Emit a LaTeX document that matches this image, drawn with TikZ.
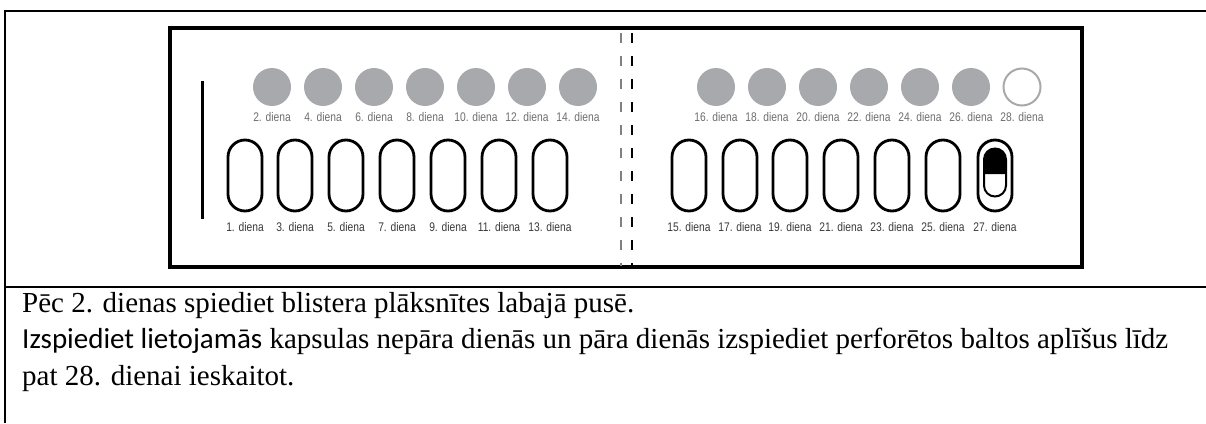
\documentclass[tikz,border=0pt]{standalone}
\usepackage{fontspec}
\setmainfont{Liberation Serif}
\newfontfamily\carlito{Carlito}
\newfontfamily\narrowf[FakeStretch=0.82]{Liberation Sans}
\definecolor{pillgray}{HTML}{A7A9AC}
\definecolor{labgray}{HTML}{6E6E6E}
\definecolor{labdark}{HTML}{3A3A3A}
\begin{document}
\begin{tikzpicture}[x=1pt,y=1pt,
  frame/.style={line width=2.2pt,black},
  dot/.style={circle,fill=pillgray,minimum size=38pt,inner sep=0pt},
  emptydot/.style={circle,draw=pillgray,line width=2pt,fill=white,minimum size=37pt,inner sep=0pt},
  capsule/.style={rectangle,draw=black,line width=2.8pt,rounded corners=17pt,minimum width=34pt,minimum height=71pt,inner sep=0pt},
  inner/.style={rectangle,draw=black,line width=2pt,rounded corners=11pt,minimum width=22pt,minimum height=48pt,inner sep=0pt},
  lab/.style={font=\narrowf\fontsize{12.5}{15}\selectfont,text=labgray,inner sep=0pt},
  labd/.style={lab,text=labdark},
  perf/.style={line width=1.2pt,dash pattern=on 10pt off 13pt,dash phase=-4pt},
  body/.style={anchor=base west,inner sep=0pt,font=\fontsize{29}{34}\selectfont}]
\useasboundingbox (0,0) rectangle (1206,-423);
\fill[white] (0,0) rectangle (1206,-423);
% table frame
\coordinate (tl) at (5,-11);
\coordinate (tr) at (1206,-11);
\coordinate (bl) at (5,-423);
\coordinate (ml) at (5,-287);
\coordinate (mr) at (1206,-287);
\draw[frame] (tr) -- (tl) -- (bl);
\draw[frame] (ml) -- (mr);
% blister card
\draw[line width=3.2pt] (170,-28) rectangle (1082,-267);
\coordinate (b1) at (202,-81);
\coordinate (b2) at (202,-219);
\draw[line width=3pt] (b1) -- (b2);
% perforation
\coordinate (p1t) at (621,-29);
\coordinate (p1b) at (621,-266);
\coordinate (p2t) at (632,-29);
\coordinate (p2b) at (632,-266);
\draw[perf,gray] (p1t) -- (p1b);
\draw[perf,black] (p2t) -- (p2b);
% even days: dots
\foreach \x/\d in {272/2,323/4,374/6,425/8,476/10,527/12,578/14,716/16,767/18,818/20,869/22,920/24,971/26}{
  \node[dot] (d\d) at (\x,-87) {};
  \node[lab] (ld\d) at (\x,-117) {\d. diena};
}
\node[emptydot] (d28) at (1022,-87) {};
\node[lab] (ld28) at (1022,-117) {28. diena};
% odd days: capsules
\foreach \x/\d in {245/1,295/3,346/5,397/7,448/9,499/11,550/13,689/15,740/17,790/19,841/21,892/23,943/25,995/27}{
  \node[capsule] (c\d) at (\x,-175.5) {};
  \node[labd] (lc\d) at (\x,-227) {\d. diena};
}
% capsule 27 content
\fill[black] (984,-174) -- (984,-159) arc[start angle=180,end angle=0,radius=11] -- (1006,-174) -- cycle;
\node[inner] (pill27) at (995,-172.5) {};
% text
\node[body] (t1) at (22,-312) {Pēc 2. dienas spiediet blistera plāksnītes labajā pusē.};
\node[body] (t2) at (22,-348.5) {{\carlito Izspiediet lietojamās} kapsulas nepāra dienās un pāra dienās izspiediet perforētos baltos aplīšus līdz};
\node[body] (t3) at (22,-385) {pat 28. dienai ieskaitot.};
\end{tikzpicture}
\end{document}
